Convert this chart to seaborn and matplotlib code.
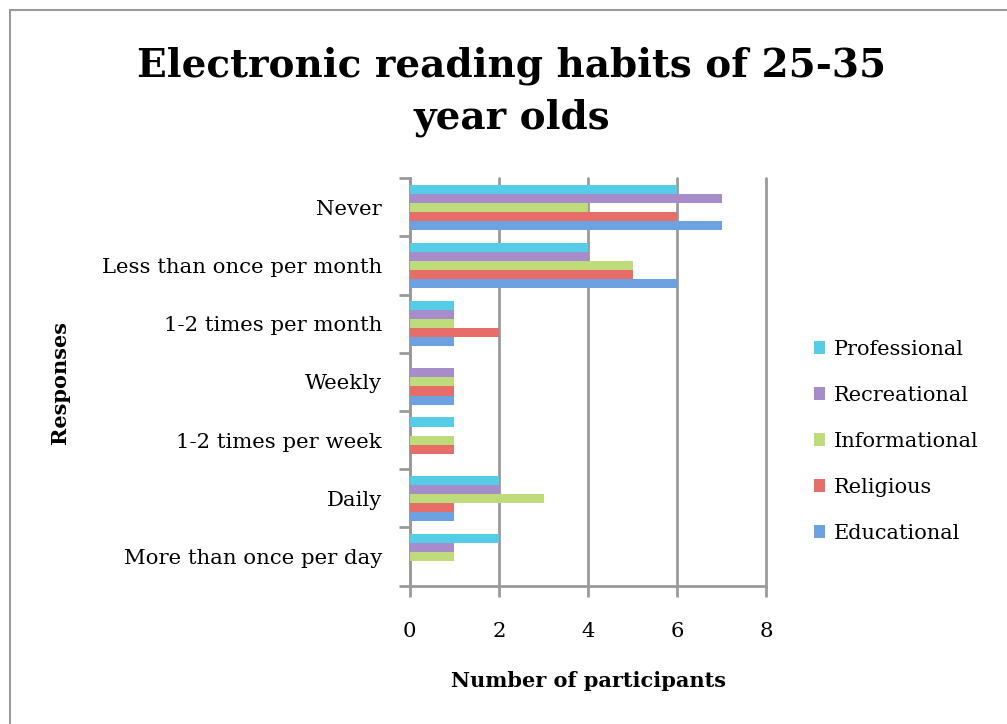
import pandas as pd
import seaborn as sns
import matplotlib.pyplot as plt
from matplotlib.patches import Rectangle
from matplotlib.ticker import FixedLocator

# Data
responses = ["Never", "Less than once per month", "1-2 times per month", "Weekly",
             "1-2 times per week", "Daily", "More than once per day"]
series = ["Professional", "Recreational", "Informational", "Religious", "Educational"]
professional = [6, 4, 1, 0, 1, 2, 2]
recreational = [7, 4, 1, 1, 0, 2, 1]
informational = [4, 5, 1, 1, 1, 3, 1]
religious = [6, 5, 2, 1, 1, 1, 0]
educational = [7, 6, 1, 1, 0, 1, 0]

colors = ["#56CDE6", "#A68CCB", "#BEDC7B", "#E66D68", "#6CA2E2"]

df = pd.DataFrame({"Response": responses, "Professional": professional,
                   "Recreational": recreational, "Informational": informational,
                   "Religious": religious, "Educational": educational})
long_df = df.melt(id_vars="Response", var_name="Type", value_name="Count")

sns.set_theme(style="white")
plt.rcParams["font.family"] = ["DejaVu Serif"]
plt.rcParams["text.color"] = "black"
plt.rcParams["axes.labelcolor"] = "black"
plt.rcParams["xtick.labelcolor"] = "black"
plt.rcParams["ytick.labelcolor"] = "black"

fig = plt.figure(figsize=(10.07, 7.24), dpi=100)
ax = fig.add_axes([0.407, 0.191, 0.354, 0.563])

sns.barplot(data=long_df, x="Count", y="Response", hue="Type", order=responses,
            hue_order=series, palette=colors, orient="h", width=0.78,
            saturation=1, linewidth=0, ax=ax, zorder=3)

# Outer frame like the chart box
fig.patches.append(Rectangle((10 / 1007, -0.02), 1.05, 1 - 10 / 724 + 0.02,
                             transform=fig.transFigure, fill=False,
                             edgecolor="#9a9a9a", linewidth=1.5))

ax.set_xlim(0, 8)
ax.set_ylim(len(responses) - 0.5, -0.5)
ax.set_xticks([0, 2, 4, 6, 8])
ax.grid(True, axis="x", color="#9a9a9a", linewidth=2, zorder=0)
ax.grid(False, axis="y")
for line in ax.get_xgridlines():
    line.set_clip_on(False)

for s in ["top", "right"]:
    ax.spines[s].set_visible(False)
for s in ["left", "bottom"]:
    ax.spines[s].set_color("#9a9a9a")
    ax.spines[s].set_linewidth(2)

# Ticks on category boundaries, labels at centres
ax.yaxis.set_minor_locator(FixedLocator([i - 0.5 for i in range(len(responses) + 1)]))
ax.tick_params(axis="y", which="minor", length=8, width=2, color="#9a9a9a", left=True)
ax.tick_params(axis="y", which="major", length=0, pad=20, labelsize=15.3)
ax.tick_params(axis="x", length=8, width=2, color="#9a9a9a", bottom=True, pad=18, labelsize=15.3)

ax.set_xlabel("Number of participants", fontsize=15, fontweight="bold", labelpad=22)
ax.set_ylabel("")
fig.text(60 / 1007, 1 - 383 / 724, "Responses", rotation=90, ha="center", va="center",
         fontsize=15, fontweight="bold")

fig.text(512 / 1007, 1 - 92 / 724, "Electronic reading habits of 25-35\nyear olds",
         ha="center", va="center", fontsize=28, fontweight="bold", linespacing=1.45)

ax.legend(loc="center left", bbox_to_anchor=(1.08, 0.354), frameon=False, fontsize=15,
          handlelength=0.55, handleheight=0.55, labelspacing=1.3, handletextpad=0.4)

fig.savefig("out.png", dpi=100)
